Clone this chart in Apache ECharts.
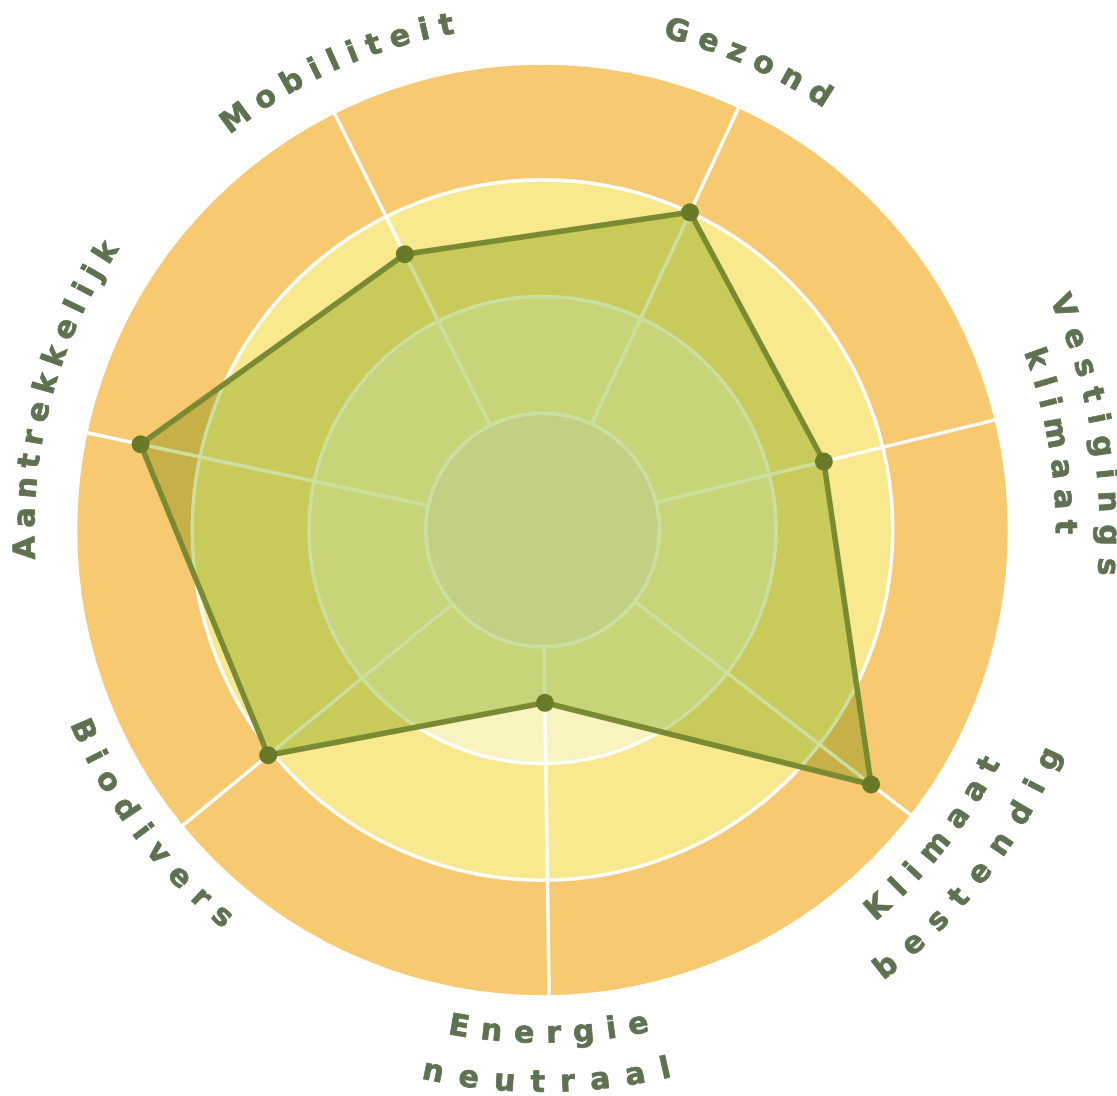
<!DOCTYPE html>
<html><head><meta charset="utf-8">
<script src="https://cdn.jsdelivr.net/npm/echarts@6/dist/echarts.min.js"></script>
<style>html,body{margin:0;padding:0;background:#fff}#chart{width:1117px;height:1096px}</style>
</head><body><div id="chart"></div>
<script>
// ---- data ----
const categories = ['Gezond', 'Mobiliteit', 'Aantrekkelijk', 'Biodivers', 'Energie neutraal', 'Klimaat bestendig', 'Vestigings klimaat'];
const labelLines = [['Gezond'], ['Mobiliteit'], ['Aantrekkelijk'], ['Biodivers'], ['Energie', 'neutraal'], ['Klimaat', 'bestendig'], ['Vestigings', 'klimaat']];
const scores = [75, 66, 88, 76, 37, 89, 62];
const scaleMin = 0;
const scaleMax = 100;

// ---- layout / style ----
const CX = 542.5, CY = 530, R = 467, START = 65.1;
const ringColors = ['#f3eed4', '#f8f3bf', '#f9e98e', '#f7ca72'];
const FONT_SIZE = 30;
const FONT_FAMILY = 'DejaVu Sans';
const FONT = 'bold ' + FONT_SIZE + 'px "' + FONT_FAMILY + '"';
const LABEL_COLOR = '#5f7150';
// per label: angle offset (deg), radius and letter spacing of each line
const labelLayout = [
  { off: 1.1, radii: [515], sp: [10.7] },
  { off: -2.8, radii: [512], sp: [10.1] },
  { off: -3.2, radii: [516], sp: [8.9] },
  { off: -2.4, radii: [503], sp: [12.1] },
  { off: -0.1, radii: [505, 554], sp: [12, 15.3] },
  { off: -0.3, radii: [506, 557], sp: [11.8, 15] },
  { off: -3.9, radii: [565, 521], sp: [12, 10.3] }
];

const ctx = document.createElement('canvas').getContext('2d');
ctx.font = FONT;

const graphics = [];
const n = categories.length;
labelLines.forEach((lines, k) => {
  const axisDeg = START + k * 360 / n;
  const phiC = (axisDeg + labelLayout[k].off) * Math.PI / 180;
  const bottom = Math.sin(axisDeg * Math.PI / 180) < -0.2;
  lines.forEach((txt, li) => {
    const r = labelLayout[k].radii[li];
    const sp = labelLayout[k].sp[li];
    const chars = Array.from(txt);
    const w = chars.map(c => ctx.measureText(c).width);
    const centers = [];
    let pos = 0;
    chars.forEach((c, i) => { centers.push(pos + w[i] / 2); pos += w[i] + sp; });
    const mid = (centers[0] + centers[centers.length - 1]) / 2;
    chars.forEach((c, i) => {
      const d = centers[i] - mid;
      const phi = bottom ? phiC + d / r : phiC - d / r;
      const rot = bottom ? phi + Math.PI / 2 : phi - Math.PI / 2;
      graphics.push({
        type: 'text',
        x: CX + r * Math.cos(phi),
        y: CY - r * Math.sin(phi),
        rotation: rot,
        silent: true,
        style: {
          text: c, fill: LABEL_COLOR,
          stroke: LABEL_COLOR, lineWidth: 0.8,
          font: FONT,
          fontSize: FONT_SIZE, fontWeight: 'bold', fontFamily: FONT_FAMILY,
          align: 'center', verticalAlign: 'middle',
          textAlign: 'center', textVerticalAlign: 'middle'
        }
      });
    });
  });
});

const chart = echarts.init(document.getElementById('chart'), null, { renderer: 'canvas' });
chart.setOption({
  animation: false,
  backgroundColor: '#ffffff',
  radar: {
    center: [CX, CY],
    radius: R,
    startAngle: START,
    shape: 'circle',
    splitNumber: 4,
    indicator: categories.map(c => ({ name: c, min: scaleMin, max: scaleMax })),
    axisName: { show: false },
    axisLine: { lineStyle: { color: '#ffffff', width: 3.5 } },
    splitLine: { lineStyle: { color: '#ffffff', width: 3.5 } },
    splitArea: { show: true, areaStyle: { color: ringColors } }
  },
  graphic: { elements: graphics },
  series: [
    {
      type: 'pie',
      z: 1,
      silent: true,
      center: [CX, CY],
      radius: [0, R / 4],
      label: { show: false },
      labelLine: { show: false },
      emphasis: { disabled: true },
      itemStyle: { color: ringColors[0], borderColor: '#ffffff', borderWidth: 3.5 },
      data: [1]
    },
    {
      type: 'radar',
      z: 2,
      silent: true,
      blendMode: 'multiply',
      symbol: 'none',
      lineStyle: { width: 0, opacity: 0 },
      areaStyle: { color: '#cddf9f', opacity: 1 },
      data: [{ value: scores }]
    },
    {
      type: 'radar',
      z: 3,
      silent: true,
      symbol: 'circle',
      symbolSize: 18,
      itemStyle: { color: '#687a28' },
      lineStyle: { color: '#7a8a32', width: 5.5 },
      data: [{ value: scores }]
    }
  ]
});
</script>
</body></html>
